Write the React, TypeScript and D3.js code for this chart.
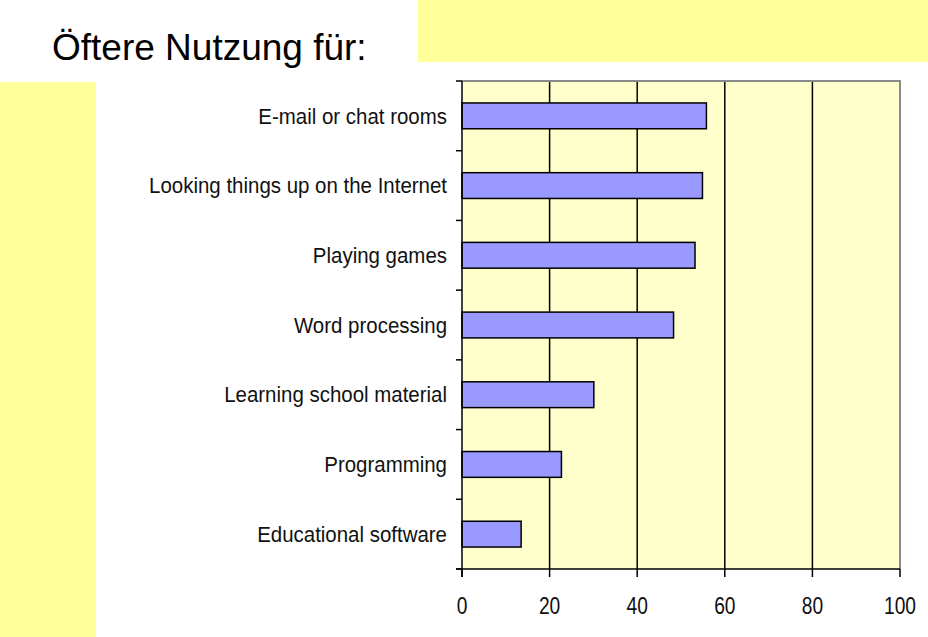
import React from 'react';
import * as d3 from 'd3';

// categories top to bottom
const categories = [
  'E-mail or chat rooms',
  'Looking things up on the Internet',
  'Playing games',
  'Word processing',
  'Learning school material',
  'Programming',
  'Educational software',
];
const values = [55.8, 54.9, 53.2, 48.3, 30.1, 22.7, 13.5];
const xTicks = [0, 20, 40, 60, 80, 100];
const title = 'Öftere Nutzung für:';

const W = 928;
const H = 637;
const plot = { left: 462, right: 900, top: 81, bottom: 569 };
const font = "'Liberation Sans', Arial, sans-serif";

export default function App() {
  const x = d3.scaleLinear().domain([0, 100]).range([plot.left, plot.right]);
  const y = d3.scaleBand<string>()
    .domain(categories)
    .range([plot.top, plot.bottom])
    .paddingInner(0.63)
    .paddingOuter(0.315);
  const band = d3.scaleBand<string>().domain(categories).range([plot.top, plot.bottom]);
  const step = band.step();
  const boundaries = d3.range(categories.length + 1).map(i => plot.top + i * step);

  return (
    <svg width={W} height={H} style={{ position: 'absolute', left: 0, top: 0, background: '#fff' }}>
      {/* decorative yellow blocks */}
      <rect x={418} y={0} width={W - 418} height={62} fill="#FFFF99" />
      <rect x={0} y={82} width={96} height={H - 82} fill="#FFFF99" />

      <text x={52} y={60} fontFamily={font} fontSize={37} fill="#000">
        {title}
      </text>

      {/* plot background */}
      <rect x={plot.left} y={plot.top} width={plot.right - plot.left} height={plot.bottom - plot.top} fill="#FFFFCC" />

      {/* gridlines */}
      {xTicks.slice(1, -1).map(t => (
        <line key={t} x1={x(t)} x2={x(t)} y1={plot.top} y2={plot.bottom} stroke="#000" strokeWidth={1.5} />
      ))}

      {/* top / right frame */}
      <path
        d={`M${plot.left},${plot.top} H${plot.right} V${plot.bottom}`}
        fill="none" stroke="#8a8a8a" strokeWidth={2}
      />

      {/* bars */}
      {categories.map((c, i) => (
        <rect
          key={c}
          x={x(0)}
          y={y(c)}
          width={x(values[i]) - x(0)}
          height={y.bandwidth()}
          fill="#9999FF"
          stroke="#000"
          strokeWidth={1.5}
        />
      ))}

      {/* y axis */}
      <line x1={plot.left} x2={plot.left} y1={plot.top} y2={plot.bottom + 8} stroke="#000" strokeWidth={1.5} />
      {boundaries.map((b, i) => (
        <line key={i} x1={plot.left - 6} x2={plot.left} y1={b} y2={b} stroke="#000" strokeWidth={1.5} />
      ))}
      {categories.map(c => (
        <g key={c} transform={`translate(${plot.left - 15},${(y(c) as number) + y.bandwidth() / 2}) scale(0.93,1)`}>
          <text dy="0.35em" textAnchor="end" fontFamily={font} fontSize={22} fill="#111">
            {c}
          </text>
        </g>
      ))}

      {/* x axis */}
      <line x1={plot.left - 6} x2={plot.right} y1={plot.bottom} y2={plot.bottom} stroke="#000" strokeWidth={1.5} />
      {xTicks.map(t => (
        <g key={t}>
          <line x1={x(t)} x2={x(t)} y1={plot.bottom} y2={plot.bottom + 8} stroke="#000" strokeWidth={1.5} />
          <g transform={`translate(${x(t)},614) scale(0.8,1)`}>
            <text textAnchor="middle" fontFamily={font} fontSize={24} fill="#111">
              {t}
            </text>
          </g>
        </g>
      ))}
    </svg>
  );
}
